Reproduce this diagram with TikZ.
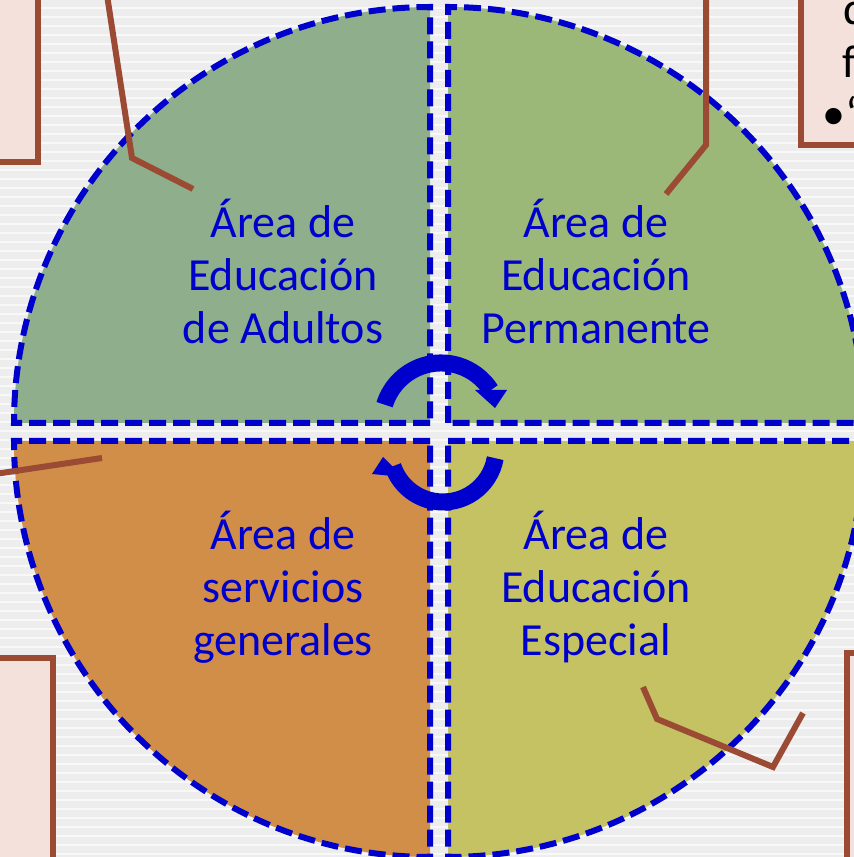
\documentclass[tikz,border=0pt]{standalone}
\usepackage{fontspec}
\setmainfont{Carlito}
\definecolor{areablue}{HTML}{0000CC}
\definecolor{callbrown}{HTML}{9B4A34}
\definecolor{boxpink}{HTML}{F5E1DC}
\definecolor{backgray}{HTML}{EDEDED}
\definecolor{stripewhite}{HTML}{F8F8F8}
\definecolor{adultgreen}{HTML}{8FAE8B}
\definecolor{permgreen}{HTML}{9CB878}
\definecolor{servorange}{HTML}{D08E49}
\definecolor{espolive}{HTML}{C4C263}
\tikzset{
  area/.style={draw=areablue, line width=6pt, dash pattern=on 17pt off 7pt},
  areatext/.style={text=areablue, align=center, inner sep=0pt, font=\fontsize{46}{53}\selectfont},
  boxtext/.style={text=black, inner sep=0pt, font=\fontsize{46}{53}\selectfont},
  callout/.style={draw=callbrown, line width=6pt},
  callbox/.style={draw=callbrown, line width=6pt, fill=boxpink},
  turn/.style={draw=areablue, line width=17pt},
  stripe/.style={draw=stripewhite, line width=2pt}
}
\begin{document}
\begin{tikzpicture}[x=1pt,y=1pt]
\useasboundingbox (0,0) rectangle (854,857);
\clip (0,0) rectangle (854,857);
\fill[backgray] (0,0) rectangle (854,857);
\foreach \y in {3,12,...,857} \draw[stripe] (0,\y) -- (854,\y);
%
\draw[callbox] (-10,695) rectangle (38,870);
\draw[callbox] (801,712) rectangle (870,870);
\draw[callbox] (-10,-10) rectangle (53,199);
\draw[callbox] (847,-10) rectangle (870,204);
%
\node[boxtext, anchor=base west] (boxd) at (843,832) {d};
\node[boxtext, anchor=base west] (boxf) at (842,779) {f};
\node[boxtext, anchor=base west] (boxq) at (822,727) {•“};
%
\path[area, fill=adultgreen] (430,434) -- (14,434) arc[start angle=180, end angle=90, radius=416] -- cycle;
\path[area, fill=permgreen] (448,434) -- (448,850) arc[start angle=90, end angle=0, radius=416] -- cycle;
\path[area, fill=servorange] (430,416) -- (14,416) arc[start angle=180, end angle=270, radius=416] -- cycle;
\path[area, fill=espolive] (448,416) -- (864,416) arc[start angle=0, end angle=-90, radius=416] -- cycle;
%
\node[areatext] (adultos) at (283,586) {Área de\\Educación\\de Adultos};
\node[areatext] (permanente) at (596,586) {Área de\\Educación\\Permanente};
\node[areatext] (servicios) at (283,270) {Área de\\servicios\\generales};
\node[areatext] (especial) at (596,270) {Área de\\Educación\\Especial};
%
\coordinate (tlA) at (107,862);
\coordinate (tlB) at (132,699);
\coordinate (tlC) at (193,668);
\draw[callout] (tlA) -- (tlB) -- (tlC);
%
\coordinate (trA) at (706,862);
\coordinate (trB) at (706,712);
\coordinate (trC) at (666,663);
\draw[callout] (trA) -- (trB) -- (trC);
%
\coordinate (blA) at (-5,383);
\coordinate (blB) at (102,399);
\draw[callout] (blA) -- (blB);
%
\coordinate (brA) at (643,170);
\coordinate (brB) at (657,138);
\coordinate (brC) at (773,90);
\coordinate (brD) at (803,144);
\draw[callout] (brA) -- (brB) -- (brC) -- (brD);
%
\coordinate (upS) at (384.6,452.3);
\draw[turn] (upS) arc[start angle=163, end angle=32.6, radius=59];
\fill[areablue] (475,467) -- (507,467) -- (495,449) -- cycle;
%
\coordinate (downS) at (495.2,398.8);
\draw[turn] (downS) arc[start angle=-10, end angle=-161, radius=53];
\fill[areablue] (383,400) -- (403,380) -- (372,383) -- cycle;
\end{tikzpicture}
\end{document}
